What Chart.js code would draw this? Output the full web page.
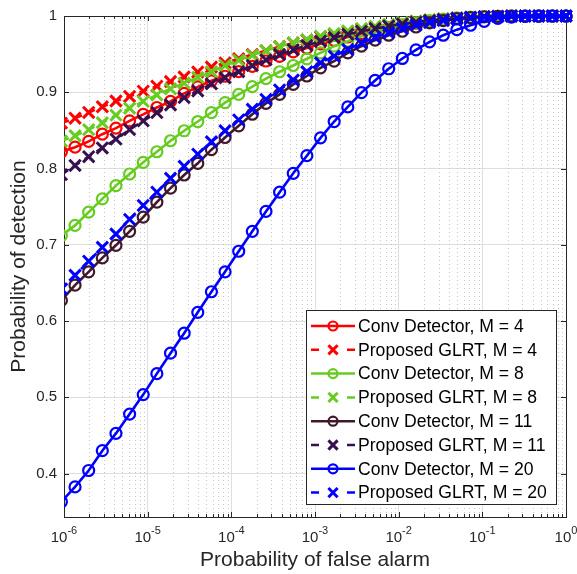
<!DOCTYPE html>
<html>
<head>
<meta charset="utf-8">
<script src="https://cdn.jsdelivr.net/npm/chart.js@4.4.1/dist/chart.umd.min.js"></script>
<style>
  html, body { margin: 0; padding: 0; background: #fff; }
  #wrap { width: 577px; height: 574px; position: relative; }
</style>
</head>
<body>
<div id="wrap"><canvas id="chart"></canvas></div>
<script>
/* ROC curves: Conv detector vs proposed GLRT, log Pfa axis */
const FONT = "'Liberation Sans', Arial, Helvetica, sans-serif";
const AXIS_COLOR = "#262626";

// false alarm probabilities (x) of the plotted points
const pfa = [
  9.31e-7, 1.355e-6, 1.972e-6, 2.871e-6, 4.178e-6, 6.081e-6, 8.851e-6,
  1.288e-5, 1.875e-5, 2.729e-5, 3.972e-5, 5.781e-5, 8.414e-5,
  1.225e-4, 1.782e-4, 2.594e-4, 3.776e-4, 5.495e-4, 7.998e-4,
  1.164e-3, 1.694e-3, 2.466e-3, 3.589e-3, 5.224e-3, 7.603e-3,
  1.107e-2, 1.611e-2, 2.344e-2, 3.412e-2, 4.966e-2, 7.228e-2,
  0.1052, 0.1531, 0.2228, 0.3243, 0.4721, 0.6871, 1
];

// detection probabilities
const convM4 = [0.822, 0.828, 0.8355, 0.845, 0.853, 0.8625, 0.871, 0.880, 0.888, 0.8985, 0.907, 0.915, 0.921, 0.927, 0.934, 0.941, 0.947, 0.953, 0.958, 0.9635, 0.968, 0.9725, 0.977, 0.981, 0.9845, 0.988, 0.9905, 0.993, 0.995, 0.9965, 0.998, 0.999, 0.9995, 0.9998, 1, 1, 1, 1];
const propM4 = [0.8595, 0.866, 0.8735, 0.881, 0.8885, 0.8945, 0.9015, 0.908, 0.914, 0.920, 0.9265, 0.933, 0.9385, 0.944, 0.9495, 0.9545, 0.960, 0.9645, 0.9685, 0.9725, 0.976, 0.9795, 0.9825, 0.985, 0.988, 0.9905, 0.9925, 0.9945, 0.996, 0.9975, 0.9985, 0.999, 0.9995, 1, 1, 1, 1, 1];
const convM8 = [0.712, 0.7254, 0.7428, 0.7602, 0.7776, 0.7928, 0.8081, 0.822, 0.8364, 0.8495, 0.8616, 0.8734, 0.8864, 0.8973, 0.9073, 0.9178, 0.9269, 0.9351, 0.9439, 0.9517, 0.9604, 0.967, 0.9735, 0.979, 0.984, 0.988, 0.991, 0.994, 0.996, 0.9975, 0.9985, 0.9993, 0.9997, 1, 1, 1, 1, 1];
const propM8 = [0.836, 0.843, 0.851, 0.860, 0.870, 0.879, 0.888, 0.8965, 0.9045, 0.912, 0.9195, 0.927, 0.935, 0.942, 0.9485, 0.9545, 0.960, 0.9648, 0.969, 0.9735, 0.977, 0.9805, 0.9835, 0.9865, 0.989, 0.9915, 0.9935, 0.995, 0.9965, 0.9975, 0.9985, 0.9992, 0.9996, 1, 1, 1, 1, 1];
const convM11 = [0.627, 0.647, 0.6645, 0.6828, 0.6993, 0.7176, 0.7363, 0.7559, 0.7742, 0.7915, 0.8068, 0.8247, 0.8407, 0.856, 0.8712, 0.8855, 0.8973, 0.9103, 0.9213, 0.9321, 0.9409, 0.9517, 0.9604, 0.9683, 0.9748, 0.980, 0.9856, 0.9909, 0.994, 0.9965, 0.998, 0.999, 0.9995, 0.9998, 1, 1, 1, 1];
const propM11 = [0.792, 0.804, 0.8155, 0.827, 0.8385, 0.851, 0.8625, 0.8734, 0.8834, 0.893, 0.9017, 0.911, 0.919, 0.927, 0.935, 0.9425, 0.9495, 0.9558, 0.9615, 0.967, 0.9718, 0.976, 0.980, 0.9835, 0.9868, 0.9895, 0.992, 0.994, 0.9955, 0.997, 0.998, 0.999, 0.9995, 1, 1, 1, 1, 1];
const convM20 = [0.363, 0.3825, 0.404, 0.430, 0.4526, 0.478, 0.5035, 0.531, 0.5578, 0.584, 0.6114, 0.6384, 0.6645, 0.6915, 0.7176, 0.7437, 0.769, 0.7937, 0.8168, 0.8402, 0.8616, 0.8808, 0.8995, 0.9155, 0.9308, 0.9443, 0.9556, 0.9661, 0.9748, 0.9821, 0.9879, 0.993, 0.997, 0.9985, 0.9995, 0.9999, 1, 1];
const propM20 = [0.642, 0.660, 0.6785, 0.6967, 0.7141, 0.7333, 0.7516, 0.769, 0.7872, 0.8029, 0.8189, 0.8351, 0.8495, 0.8638, 0.8777, 0.8907, 0.903, 0.9161, 0.9269, 0.9386, 0.9474, 0.956, 0.9645, 0.972, 0.978, 0.9835, 0.988, 0.9915, 0.994, 0.9965, 0.998, 0.999, 0.9995, 1, 1, 1, 1, 1];

// axis ticks
const xTicks = [1e-6, 1e-5, 1e-4, 1e-3, 1e-2, 1e-1, 1];
const xTickExp = ["-6", "-5", "-4", "-3", "-2", "-1", "0"];
const yTicks = [0.4, 0.5, 0.6, 0.7, 0.8, 0.9, 1];

const series = [
  { label: "Conv Detector, M = 4",   data: convM4,  color: "#ff0000", dashed: false },
  { label: "Proposed GLRT, M = 4",   data: propM4,  color: "#ff0000", dashed: true },
  { label: "Conv Detector, M = 8",   data: convM8,  color: "#66cc1f", dashed: false },
  { label: "Proposed GLRT, M = 8",   data: propM8,  color: "#66cc1f", dashed: true },
  { label: "Conv Detector, M = 11",  data: convM11, color: "#40182c", dashed: false },
  { label: "Proposed GLRT, M = 11",  data: propM11, color: "#36104f", dashed: true },
  { label: "Conv Detector, M = 20",  data: convM20, color: "#0000ff", dashed: false },
  { label: "Proposed GLRT, M = 20",  data: propM20, color: "#0000ff", dashed: true },
];

const markerOf = s => s.dashed
  ? { pointStyle: "crossRot", radius: 8, borderWidth: 3 }
  : { pointStyle: "circle", radius: 5.5, borderWidth: 2.2 };

// MATLAB-ish axes: dotted minor grid, box, inward ticks, 10^n labels
const matlabAxes = {
  id: "matlabAxes",
  beforeDatasetsDraw(chart) {
    const ctx = chart.ctx, a = chart.chartArea, xs = chart.scales.x, ys = chart.scales.y;
    ctx.save();
    // minor grid
    ctx.strokeStyle = "#c4c4c4";
    ctx.lineWidth = 1;
    ctx.setLineDash([1, 3]);
    for (let e = -6; e < 0; e++) {
      for (let m = 2; m <= 9; m++) {
        const px = Math.round(xs.getPixelForValue(m * Math.pow(10, e))) + 0.5;
        ctx.beginPath(); ctx.moveTo(px, a.top); ctx.lineTo(px, a.bottom); ctx.stroke();
      }
    }
    ctx.setLineDash([]);
    // box
    ctx.strokeStyle = AXIS_COLOR;
    ctx.lineWidth = 1;
    ctx.strokeRect(Math.round(a.left) + 0.5, Math.round(a.top) + 0.5, Math.round(a.right - a.left), Math.round(a.bottom - a.top));
    // ticks
    ctx.beginPath();
    for (let e = -6; e <= 0; e++) {
      for (let m = 1; m <= (e === 0 ? 1 : 9); m++) {
        const px = Math.round(xs.getPixelForValue(m * Math.pow(10, e))) + 0.5;
        const len = m === 1 ? 5 : 3;
        ctx.moveTo(px, a.bottom); ctx.lineTo(px, a.bottom - len);
        ctx.moveTo(px, a.top); ctx.lineTo(px, a.top + len);
      }
    }
    yTicks.forEach(v => {
      const py = Math.round(ys.getPixelForValue(v)) + 0.5;
      ctx.moveTo(a.left, py); ctx.lineTo(a.left + 5, py);
      ctx.moveTo(a.right, py); ctx.lineTo(a.right - 5, py);
    });
    ctx.stroke();
    // x tick labels with superscript exponent
    ctx.fillStyle = AXIS_COLOR;
    ctx.textBaseline = "alphabetic";
    xTicks.forEach((v, i) => {
      const px = xs.getPixelForValue(v);
      ctx.font = "15px " + FONT;
      const wb = ctx.measureText("10").width;
      ctx.font = "11px " + FONT;
      const we = ctx.measureText(xTickExp[i]).width;
      const x0 = px - (wb + we) / 2;
      ctx.font = "15px " + FONT;
      ctx.textAlign = "left";
      ctx.fillText("10", x0, a.bottom + 25);
      ctx.font = "11px " + FONT;
      ctx.fillText(xTickExp[i], x0 + wb, a.bottom + 17);
    });
    ctx.restore();
  },
  afterDatasetsDraw(chart) {
    const ctx = chart.ctx;
    const bx = 306.5, by = 310.5, bw = 250, bh = 194, rowH = 23.8;
    ctx.save();
    ctx.fillStyle = "#fff";
    ctx.fillRect(bx, by, bw, bh);
    ctx.strokeStyle = AXIS_COLOR;
    ctx.lineWidth = 1;
    ctx.strokeRect(bx, by, bw, bh);
    series.forEach((s, i) => {
      const cy = by + 15.5 + i * rowH;
      ctx.strokeStyle = s.color;
      ctx.lineWidth = 2.5;
      ctx.beginPath();
      if (s.dashed) {
        ctx.moveTo(311, cy); ctx.lineTo(319, cy);
        ctx.moveTo(347, cy); ctx.lineTo(355, cy);
      } else {
        ctx.moveTo(311, cy); ctx.lineTo(355, cy);
      }
      ctx.stroke();
      const mk = markerOf(s);
      ctx.fillStyle = "rgba(0,0,0,0)";
      ctx.lineWidth = mk.borderWidth;
      Chart.helpers.drawPoint(ctx, { pointStyle: mk.pointStyle, radius: s.dashed ? 6.5 : 4.5, rotation: 0, borderWidth: mk.borderWidth }, 333, cy);
      ctx.fillStyle = "#000";
      ctx.font = "17.6px " + FONT;
      ctx.textAlign = "left";
      ctx.textBaseline = "middle";
      ctx.fillText(s.label, 358, cy + 1);
    });
    ctx.restore();
  }
};

new Chart(document.getElementById("chart"), {
  type: "line",
  data: {
    datasets: series.map((s, i) => {
      const mk = markerOf(s);
      return {
        label: s.label,
        data: pfa.map((x, j) => ({ x, y: s.data[j] })),
        borderColor: s.color,
        backgroundColor: "rgba(0,0,0,0)",
        borderWidth: 2.6,
        borderDash: s.dashed ? [8, 6] : [],
        pointStyle: mk.pointStyle,
        pointRadius: mk.radius,
        pointBorderWidth: mk.borderWidth,
        pointBorderColor: s.color,
        pointBackgroundColor: "rgba(0,0,0,0)",
        tension: 0,
        clip: { left: 0, top: 8, right: 8, bottom: 0 },
        order: series.length - i,
      };
    }),
  },
  options: {
    responsive: true,
    maintainAspectRatio: false,
    animation: false,
    devicePixelRatio: 1,
    layout: { padding: { top: 13, right: 10, left: 0, bottom: 0 } },
    plugins: { legend: { display: false }, tooltip: { enabled: false } },
    scales: {
      x: {
        type: "logarithmic",
        min: 1e-6,
        max: 1,
        afterBuildTicks: s => { s.ticks = xTicks.map(v => ({ value: v })); },
        afterFit: s => { s.height = 57; },
        ticks: { display: false },
        grid: { color: "#dedede", lineWidth: 1, drawTicks: false },
        border: { display: false },
        title: { display: true, text: "Probability of false alarm", color: AXIS_COLOR, font: { family: FONT, size: 21 }, padding: { top: 0, bottom: 1 } },
      },
      y: {
        type: "linear",
        min: 0.343,
        max: 1,
        afterBuildTicks: s => { s.ticks = yTicks.map(v => ({ value: v })); },
        afterFit: s => { s.width = 64; },
        ticks: {
          color: AXIS_COLOR,
          font: { family: FONT, size: 15 },
          padding: 7,
          callback: v => (v === 1 ? "1" : v.toFixed(1)),
        },
        grid: { color: "#dedede", lineWidth: 1, drawTicks: false },
        border: { display: false },
        title: { display: true, text: "Probability of detection", color: AXIS_COLOR, font: { family: FONT, size: 21 }, padding: { top: 7, bottom: 0 } },
      },
    },
  },
  plugins: [matlabAxes],
});
</script>
</body>
</html>
